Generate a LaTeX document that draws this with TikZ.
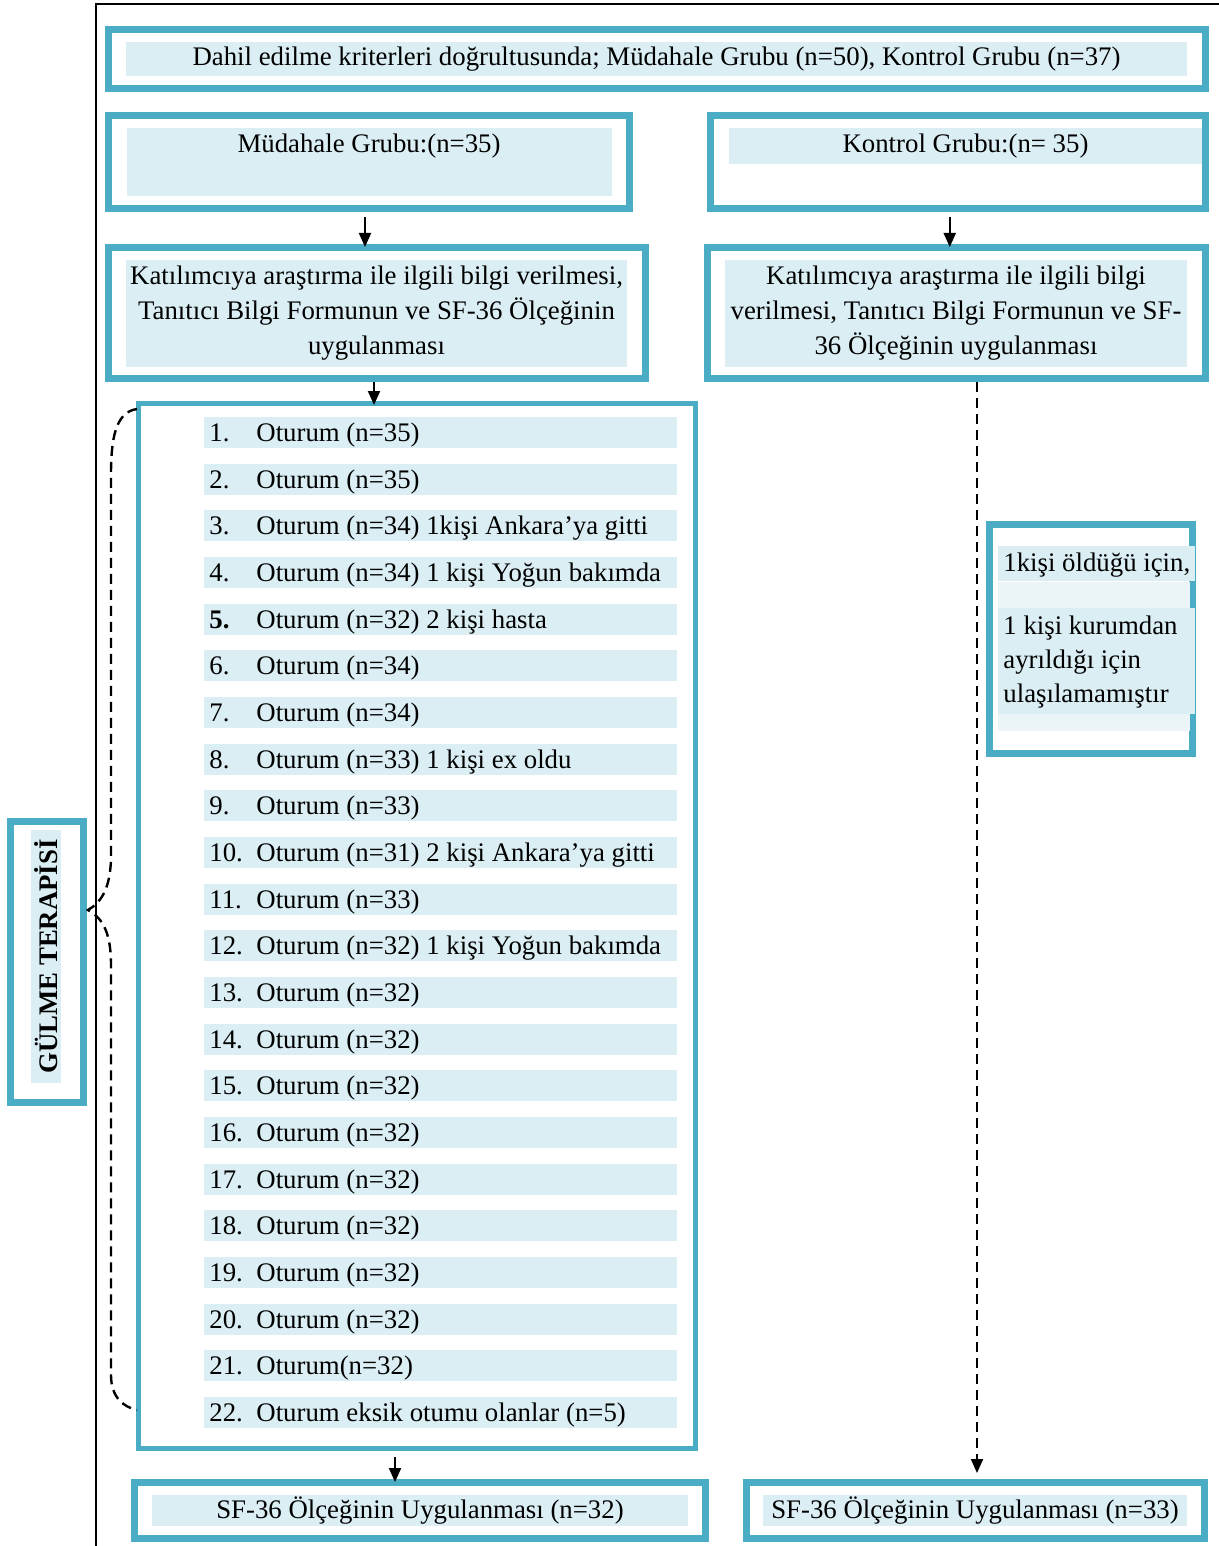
\documentclass[tikz,border=0pt]{standalone}
\usepackage{fontspec}
\setmainfont{Liberation Serif}
\usetikzlibrary{arrows.meta}
\definecolor{boxteal}{HTML}{4BACC6}
\definecolor{boxfill}{HTML}{DAEEF3}
\definecolor{boxpale}{HTML}{EBF5F8}

\begin{document}
\begin{tikzpicture}[x=0.5pt,y=-0.5pt,>={Triangle[length=7pt,width=6pt]},
		frame/.style={draw=boxteal,line width=3.5pt,inner sep=0pt},
		strip/.style={fill=boxfill,inner sep=0pt,align=center},
		plain/.style={inner sep=0pt},
		dashline/.style={dash pattern=on 5pt off 3pt},
		font=\fontsize{13.4}{17.5}\selectfont]
	\useasboundingbox (0,0) rectangle (1219,1546);
	\draw[line width=1pt] (96,1546) -- (96,4) -- (1219,4);

	% top
	\node[frame,minimum width=548.5pt,minimum height=29.75pt]	(incl)	at (656.5,59.25)	{};
	\node[strip,minimum width=530.5pt,minimum height=17pt]	(inclt)	at (656.5,59)	{Dahil edilme kriterleri doğrultusunda; Müdahale Grubu (n=50), Kontrol Grubu (n=37)};

	% groups
	\node[frame,minimum width=260.5pt,minimum height=46.5pt]	(mud)	at (369,162)	{};
	\node[strip,minimum width=242.5pt,minimum height=34pt]	(mudf)	at (369.5,162)	{};
	\node[plain]	(mudt)	at (369,146)	{Müdahale Grubu:(n=35)};
	\node[frame,minimum width=247.25pt,minimum height=46.5pt]	(kon)	at (957.75,162)	{};
	\node[strip,minimum width=236.5pt,minimum height=18pt]	(kont)	at (965.5,146)	{Kontrol Grubu:(n= 35)};

	% information
	\node[frame,minimum width=268.5pt,minimum height=65.5pt]	(infoL)	at (377,313)	{};
	\node[strip,minimum width=250.5pt,minimum height=53.5pt]	(infoLt)	at (376.5,313.5)
		{Katılımcıya araştırma ile ilgili bilgi verilmesi,\\Tanıtıcı Bilgi Formunun ve SF-36 Ölçeğinin\\uygulanması};
	\node[frame,minimum width=249pt,minimum height=65.5pt]	(infoR)	at (956,313)	{};
	\node[strip,minimum width=231pt,minimum height=53.5pt]	(infoRt)	at (956,313.5)
		{Katılımcıya araştırma ile ilgili bilgi\\verilmesi, Tanıtıcı Bilgi Formunun ve SF-\\36 Ölçeğinin uygulanması};

	% sessions
	\node[frame,line width=2.5pt,minimum width=278.5pt,minimum height=522.5pt]	(sess)	at (417,926)	{};
	\foreach [count=\k] \num/\txt in {1./{Oturum (n=35)},2./{Oturum (n=35)},3./{Oturum (n=34) 1kişi Ankara’ya gitti},
			4./{Oturum (n=34) 1 kişi Yoğun bakımda},{\textbf{5.}}/{Oturum (n=32) 2 kişi hasta},6./{Oturum (n=34)},
			7./{Oturum (n=34)},8./{Oturum (n=33) 1 kişi ex oldu},9./{Oturum (n=33)},
			10./{Oturum (n=31) 2 kişi Ankara’ya gitti},11./{Oturum (n=33)},12./{Oturum (n=32) 1 kişi Yoğun bakımda},
			13./{Oturum (n=32)},14./{Oturum (n=32)},15./{Oturum (n=32)},16./{Oturum (n=32)},17./{Oturum (n=32)},
			18./{Oturum (n=32)},19./{Oturum (n=32)},20./{Oturum (n=32)},21./{Oturum(n=32)},
			22./{Oturum eksik otumu olanlar (n=5)}}{
		\node[strip,anchor=west,minimum width=236.5pt,minimum height=15.5pt]	(row\k)	at (204,{432.5+(\k-1)*46.67})	{};
		\node[plain,anchor=base west]	(num\k)	at (209,{441.5+(\k-1)*46.67})	{\num};
		\node[plain,anchor=base west]	(txt\k)	at (256,{441.5+(\k-1)*46.67})	{\txt};
	}

	% dropouts
	\node[frame,minimum width=101.5pt,minimum height=114.75pt]	(note)	at (1091,638.75)	{};
	\node[strip,minimum width=98.5pt,minimum height=17.5pt]	(note1)	at (1096.5,563.5)	{};
	\node[fill=boxpale,inner sep=0pt,minimum width=96pt,minimum height=13pt]	(note2)	at (1094,595)	{};
	\node[strip,minimum width=98.5pt,minimum height=53pt]	(note3)	at (1096.5,661)	{};
	\node[fill=boxpale,inner sep=0pt,minimum width=96pt,minimum height=8.5pt]	(note4)	at (1094,722.5)	{};
	\node[plain,anchor=west]	(notet1)	at (1003,565)	{1kişi öldüğü için,};
	\node[plain,anchor=west,align=left,font=\fontsize{13.4}{16.8}\selectfont]	(notet2)	at (1003,662)
		{1 kişi kurumdan\\ayrıldığı için\\ulaşılamamıştır};

	% laughter therapy
	\node[frame,minimum width=36.5pt,minimum height=140.5pt]	(glm)	at (47,962)	{};
	\node[strip,rotate=90,minimum width=126.5pt,minimum height=15pt]	(glmt)	at (46,956.5)	{\textbf{GÜLME TERAPİSİ}};
	\draw[dashline,line width=1.2pt] (137,409) .. controls (115,412) and (111,440) .. (111,475) -- (111,855)
		.. controls (111,890) and (100,903) .. (88,910) .. controls (100,917) and (111,928) .. (111,965)
		-- (111,1375) .. controls (111,1398) and (124,1407) .. (137,1410);

	% results
	\node[frame,minimum width=285.5pt,minimum height=28pt]	(sfL)	at (420,1510.5)	{};
	\node[strip,minimum width=268pt,minimum height=15.5pt]	(sfLt)	at (420,1510.5)	{SF-36 Ölçeğinin Uygulanması (n=32)};
	\node[frame,minimum width=229pt,minimum height=28pt]	(sfR)	at (975.5,1510.5)	{};
	\node[strip,minimum width=212pt,minimum height=15.5pt]	(sfRt)	at (975,1510.5)	{SF-36 Ölçeğinin Uygulanması (n=33)};

	\path[->,line width=1pt]
		([xshift=-2pt]mud.south)	edge[shorten <=2.5pt,shorten >=-1.5pt]	([xshift=-2pt]mud.south |- infoL.north)
		([xshift=-4pt]kon.south)	edge[shorten <=2.5pt,shorten >=-1.5pt]	([xshift=-4pt]kon.south |- infoR.north)
		([xshift=-1.5pt]infoL.south)	edge[shorten >=-2pt]	([xshift=-1.5pt]infoL.south |- sess.north)
		([xshift=-11pt]sess.south)	edge[shorten <=3pt,shorten >=-1.5pt]	([xshift=-11pt]sess.south |- sfL.north)
		([xshift=10.5pt]infoR.south)	edge[dashline,shorten >=3pt]	([xshift=10.5pt]infoR.south |- sfR.north);
\end{tikzpicture}
\end{document}
